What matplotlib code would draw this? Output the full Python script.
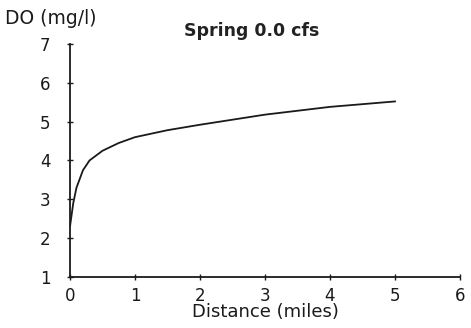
import matplotlib
matplotlib.use('Agg')
import matplotlib.pyplot as plt

plt.rcParams['font.family'] = ['DejaVu Sans']

# distance (miles) and dissolved oxygen (mg/l)
distance = [0, 0.05, 0.1, 0.2, 0.3, 0.5, 0.75, 1, 1.5, 2, 3, 4, 5]
do_mgl = [2.3, 2.9, 3.3, 3.75, 4.0, 4.25, 4.45, 4.6, 4.78, 4.92, 5.18, 5.38, 5.52]

x_ticks = [0, 1, 2, 3, 4, 5, 6]
y_ticks = [1, 2, 3, 4, 5, 6, 7]

fig = plt.figure(figsize=(4.71, 3.28), dpi=100)
ax = fig.add_axes([0.1486, 0.1555, 0.828, 0.7105])

ax.plot(distance, do_mgl, color='#1a1a1a', linewidth=1.3)

ax.set_xlim(0, 6)
ax.set_ylim(1, 7)
ax.set_xticks(x_ticks)
ax.set_yticks(y_ticks)
ax.tick_params(direction='inout', length=4, width=1, labelsize=12, colors='#1a1a1a')
ax.tick_params(axis='y', pad=12)
ax.tick_params(axis='x', pad=5)

for side in ['top', 'right']:
    ax.spines[side].set_visible(False)
for side in ['left', 'bottom']:
    ax.spines[side].set_color('#1a1a1a')
    ax.spines[side].set_linewidth(1.3)

ax.set_xlabel('Distance (miles)', fontsize=13, color='#1a1a1a', labelpad=-1)
fig.text(0.01, 0.945, 'DO (mg/l)', fontsize=13.5, color='#1a1a1a', ha='left', va='center')
fig.text(0.535, 0.905, 'Spring 0.0 cfs', fontsize=12.5, fontweight='semibold', color='#222222',
         ha='center', va='center')

fig.savefig('out.png', dpi=100, facecolor='white')
